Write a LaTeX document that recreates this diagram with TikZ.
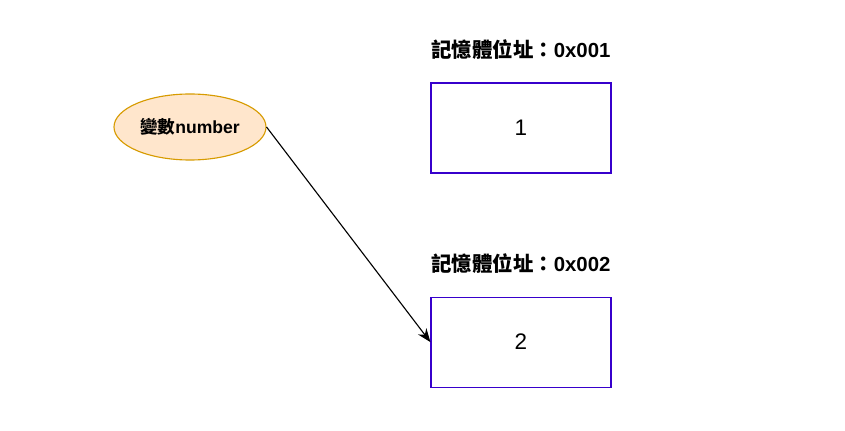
\documentclass[tikz,border=0pt]{standalone}
\usepackage{fontspec}
\setmainfont{Liberation Sans}
\newfontfamily\cjk{Noto Sans CJK TC}
\usepackage{tikz}
\usetikzlibrary{shapes.geometric, arrows.meta, positioning}
\definecolor{varfill}{HTML}{FFE6CC}
\definecolor{vardraw}{HTML}{D79B00}
\definecolor{celldraw}{HTML}{3700CC}
\tikzset{
  varnode/.style={ellipse, draw=vardraw, fill=varfill, line width=0.8pt,
    minimum width=3.8cm, minimum height=1.65cm, inner sep=0pt,
    font=\bfseries\fontsize{12.5}{15}\selectfont},
  cellbox/.style={rectangle, draw=celldraw, line width=0.8pt,
    minimum width=4.5cm, minimum height=2.25cm,
    font=\fontsize{16}{19}\selectfont},
  addrlabel/.style={font=\bfseries\fontsize{14.5}{17}\selectfont},
  arrow/.style={-{Stealth[length=3.4mm,width=2.6mm]}, line width=0.8pt}
}
\begin{document}
\begin{tikzpicture}
  \useasboundingbox (0,0) rectangle (21.125,-10.775);
  \node[varnode] (number) at (4.75,-3.175) {{\cjk 變數}number};
  \node[cellbox] (cell1) at (13.025,-3.2) {1};
  \node[cellbox, below=3.075cm of cell1] (cell2) {2};
  \node[addrlabel, above=0.45cm of cell1] (addr1)
    {{\cjk 記憶體位址：}0x001};
  \node[addrlabel, above=0.45cm of cell2] (addr2)
    {{\cjk 記憶體位址：}0x002};
  \draw[arrow] (number.east) -- (cell2.west);
\end{tikzpicture}
\end{document}
